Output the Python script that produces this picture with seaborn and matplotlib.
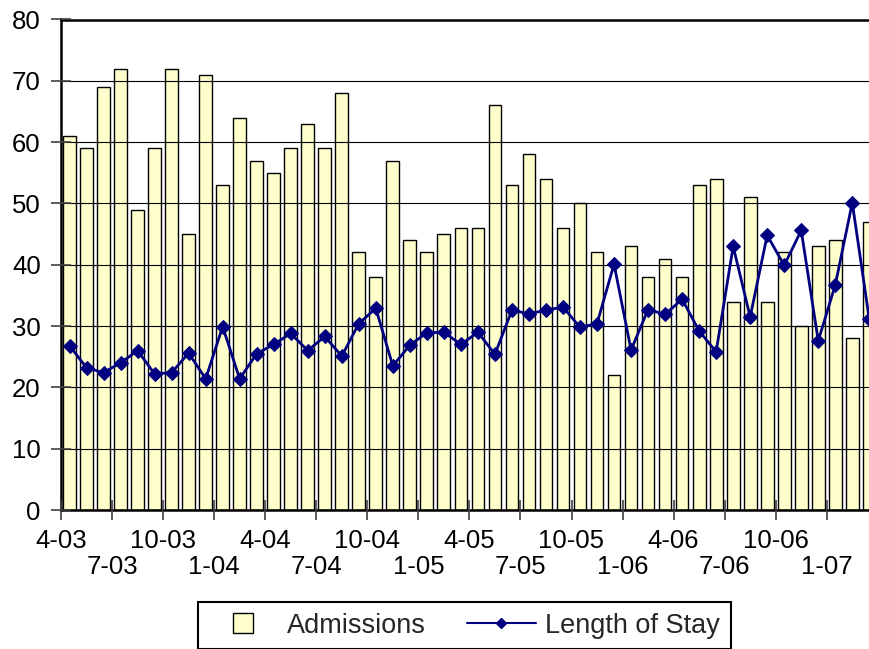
import numpy as np
import pandas as pd
import matplotlib
matplotlib.use('Agg')
import matplotlib.pyplot as plt
import seaborn as sns
from matplotlib.lines import Line2D

# ── Data ───────────────────────────────────────────────────────────────────
months = pd.date_range('2003-04-01', periods=48, freq='MS')

admissions = [61, 59, 69, 72, 49, 59, 72, 45, 71, 53, 64, 57,
              55, 59, 63, 59, 68, 42, 38, 57, 44, 42, 45, 46,
              46, 66, 53, 58, 54, 46, 50, 42, 22, 43, 38, 41,
              38, 53, 54, 34, 51, 34, 42, 30, 43, 44, 28, 47]

length_of_stay = [26.8, 23.2, 22.4, 24.0, 26.0, 22.2, 22.4, 25.6, 21.4, 29.9, 21.4, 25.5,
                  27.0, 28.8, 26.0, 28.3, 25.1, 30.4, 32.9, 23.5, 26.9, 28.9, 29.0, 27.0,
                  29.0, 25.4, 32.6, 32.0, 32.6, 33.1, 29.8, 30.4, 40.1, 26.1, 32.7, 31.9,
                  34.4, 29.2, 25.8, 43.0, 31.5, 44.8, 39.9, 45.6, 27.6, 36.7, 50.1, 31.1]

tick_labels = ['4-03', '7-03', '10-03', '1-04', '4-04', '7-04', '10-04', '1-05',
               '4-05', '7-05', '10-05', '1-06', '4-06', '7-06', '10-06', '1-07']

df = pd.DataFrame({
    'month': [f"{m.month}-{m.strftime('%y')}" for m in months],
    'pos': np.arange(len(months)),
    'Admissions': admissions,
    'Length of Stay': length_of_stay,
})

BAR_COLOR = '#FFFFCC'
LINE_COLOR = '#000080'

sns.set_style('white')
plt.rcParams['font.family'] = ['Liberation Sans', 'DejaVu Sans']

fig = plt.figure(figsize=(8.7, 6.49), dpi=100)
# plot area runs past the right edge of the picture, like the original
ax = fig.add_axes([61 / 870, 139 / 649, 816.8 / 870, 490.5 / 649])

sns.barplot(data=df, x='month', y='Admissions', color=BAR_COLOR, saturation=1,
            edgecolor='black', linewidth=1, width=0.75, ax=ax, zorder=1)
sns.lineplot(data=df, x='pos', y='Length of Stay', color=LINE_COLOR, lw=2,
             marker='D', markersize=7, markeredgecolor=LINE_COLOR,
             ax=ax, zorder=3, legend=False)

ax.set_xlim(-0.5, len(months) - 0.5)
ax.set_ylim(0, 80)
ax.set_yticks(range(0, 81, 10))
ax.set_xlabel('')
ax.set_ylabel('')

# boundaries every 3 months; top row on major ticks, bottom row on minor ticks
tick_pos = np.arange(len(tick_labels)) * 3 - 0.5
ax.set_xticks(tick_pos[0::2])
ax.set_xticklabels(tick_labels[0::2])
ax.set_xticks(tick_pos[1::2], minor=True)
ax.set_xticklabels(tick_labels[1::2], minor=True)

ax.tick_params(axis='both', which='both', direction='inout', length=15, width=1.2,
               color='#404040', labelsize=18.5, labelcolor='black')
ax.tick_params(axis='x', which='major', pad=6)
ax.tick_params(axis='x', which='minor', pad=25)
ax.tick_params(axis='y', pad=7)
ax.tick_params(bottom=True, left=True)
ax.tick_params(axis='x', which='minor', bottom=True)

ax.set_axisbelow(False)
ax.yaxis.grid(True, color='black', lw=0.8)
ax.xaxis.grid(False)
ax.xaxis.grid(False, which='minor')

for side in ['top', 'left', 'bottom', 'right']:
    ax.spines[side].set_visible(True)
    ax.spines[side].set_color('black')
    ax.spines[side].set_linewidth(1.8)

handles = [
    Line2D([], [], ls='none', marker='s', markersize=15, markerfacecolor=BAR_COLOR,
           markeredgecolor='black', markeredgewidth=1),
    Line2D([], [], color=LINE_COLOR, lw=1.5, marker='D', markersize=5),
]
leg = fig.legend(handles, ['Admissions', 'Length of Stay'], ncol=2,
                 loc='upper left', bbox_to_anchor=(198 / 870, 1 - 602 / 649),
                 bbox_transform=fig.transFigure, borderaxespad=0,
                 fontsize=19.5, frameon=True, fancybox=False, framealpha=1,
                 handlelength=2.55, handletextpad=0.35, columnspacing=1.5,
                 borderpad=0.39)
leg.get_frame().set_edgecolor('black')
leg.get_frame().set_linewidth(1.5)

fig.savefig('out.png', dpi=100, facecolor='white')
plt.close(fig)
